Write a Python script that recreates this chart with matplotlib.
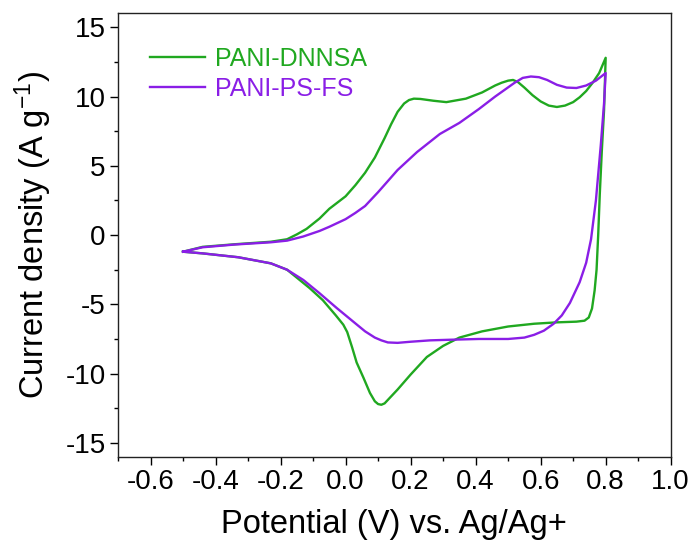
import numpy as np
import matplotlib
matplotlib.use("Agg")
import matplotlib.pyplot as plt
from matplotlib.ticker import MultipleLocator

plt.rcParams["font.family"] = ["Liberation Sans", "DejaVu Sans"]
plt.rcParams["mathtext.fontset"] = "custom"
plt.rcParams["mathtext.rm"] = "Liberation Sans"
plt.rcParams["mathtext.it"] = "Liberation Sans"
plt.rcParams["axes.unicode_minus"] = False

GREEN = "#20a820"
PURPLE = "#8a1ee6"

# ------------------------------------------------------------
# CV loops (anodic sweep then cathodic sweep)
# ------------------------------------------------------------
dnnsa_v = [
    -0.50, -0.44, -0.34, -0.23, -0.18, -0.15, -0.12, -0.08, -0.05, 0.00,
    0.03, 0.06, 0.09, 0.12, 0.14, 0.16, 0.18, 0.195, 0.21, 0.23,
    0.27, 0.31, 0.37, 0.42, 0.46, 0.48, 0.50, 0.515, 0.53, 0.55,
    0.575, 0.60, 0.625, 0.65, 0.675, 0.70, 0.72, 0.74, 0.76, 0.78,
    0.80,
    0.795, 0.788, 0.782, 0.777, 0.772, 0.766, 0.758, 0.748, 0.735, 0.71,
    0.65, 0.58, 0.50, 0.42, 0.35, 0.30, 0.25, 0.20, 0.16, 0.13,
    0.12, 0.11, 0.10, 0.09, 0.075, 0.055, 0.034, 0.02, 0.005, -0.007,
    -0.03, -0.07, -0.11, -0.18, -0.23, -0.33, -0.44, -0.50,
]
dnnsa_j = [
    -1.20, -0.85, -0.66, -0.48, -0.30, 0.05, 0.45, 1.20, 1.90, 2.80,
    3.60, 4.50, 5.60, 7.00, 8.00, 8.90, 9.50, 9.75, 9.85, 9.83,
    9.70, 9.60, 9.85, 10.30, 10.80, 11.00, 11.15, 11.20, 11.05, 10.65,
    10.10, 9.65, 9.35, 9.25, 9.35, 9.60, 9.95, 10.40, 11.00, 11.70,
    12.80,
    9.00, 6.00, 3.00, 0.00, -2.50, -4.00, -5.30, -5.95, -6.18, -6.25,
    -6.30, -6.40, -6.60, -6.95, -7.40, -8.00, -8.80, -10.07, -11.15, -11.90,
    -12.15, -12.25, -12.20, -12.00, -11.40, -10.30, -9.20, -8.10, -7.00, -6.47,
    -5.80, -4.70, -3.84, -2.50, -2.04, -1.60, -1.32, -1.20,
]

psfs_v = [
    -0.50, -0.44, -0.34, -0.23, -0.18, -0.13, -0.08, -0.05, 0.00, 0.03,
    0.06, 0.10, 0.16, 0.22, 0.29, 0.35, 0.41, 0.46, 0.52, 0.545,
    0.57, 0.595, 0.62, 0.65, 0.68, 0.71, 0.74, 0.77, 0.80,
    0.795, 0.785, 0.77, 0.755, 0.74, 0.72, 0.69, 0.665, 0.64, 0.61,
    0.58, 0.55, 0.50, 0.41, 0.33, 0.26, 0.20, 0.16, 0.13, 0.11,
    0.09, 0.06, 0.034, -0.027, -0.08, -0.13, -0.18, -0.23, -0.33, -0.44,
    -0.50,
]
psfs_j = [
    -1.20, -0.88, -0.68, -0.52, -0.40, -0.10, 0.30, 0.60, 1.15, 1.60,
    2.10, 3.10, 4.70, 6.00, 7.30, 8.10, 9.10, 10.00, 11.00, 11.35,
    11.45, 11.40, 11.20, 10.85, 10.65, 10.62, 10.80, 11.15, 11.70,
    9.50, 6.50, 2.50, -0.30, -2.00, -3.40, -4.90, -5.80, -6.40, -6.90,
    -7.20, -7.40, -7.50, -7.50, -7.55, -7.60, -7.70, -7.78, -7.75, -7.60,
    -7.40, -6.95, -6.45, -5.27, -4.20, -3.24, -2.50, -2.04, -1.60, -1.32,
    -1.20,
]

fig = plt.figure(figsize=(6.93, 5.48), dpi=100)
ax = fig.add_axes([0.1703, 0.1666, 0.7975, 0.8088])

ax.plot(dnnsa_v, dnnsa_j, color=GREEN, lw=1.7, label="PANI-DNNSA")
ax.plot(psfs_v, psfs_j, color=PURPLE, lw=1.7, label="PANI-PS-FS")

ax.set_xlim(-0.7, 1.0)
ax.set_ylim(-16, 16)
ax.xaxis.set_minor_locator(MultipleLocator(0.1))
ax.yaxis.set_major_locator(MultipleLocator(5))
ax.yaxis.set_minor_locator(MultipleLocator(2.5))
xt = np.arange(-0.6, 1.01, 0.2)
ax.set_xticks(xt)
ax.set_xticklabels([f"{v:.1f}" for v in xt])

ax.tick_params(which="major", direction="out", length=5.5, width=1.0, labelsize=20)
ax.tick_params(which="minor", direction="out", length=3.0, width=1.0)
for sp in ax.spines.values():
    sp.set_linewidth(1.0)
    sp.set_color("#222222")

ax.set_xlabel("Potential (V) vs. Ag/Ag+", fontsize=23.5, labelpad=10)
ax.set_ylabel(r"Current density (A g$^{\mathregular{-1}}$)", fontsize=23.5, labelpad=8)

leg = ax.legend(loc="upper left", bbox_to_anchor=(0.039, 0.948), frameon=False,
                fontsize=18, handlelength=2.2, handletextpad=0.4,
                labelspacing=0.24, borderaxespad=0)
for txt, c in zip(leg.get_texts(), [GREEN, PURPLE]):
    txt.set_color(c)

fig.savefig("out.png", dpi=100)
